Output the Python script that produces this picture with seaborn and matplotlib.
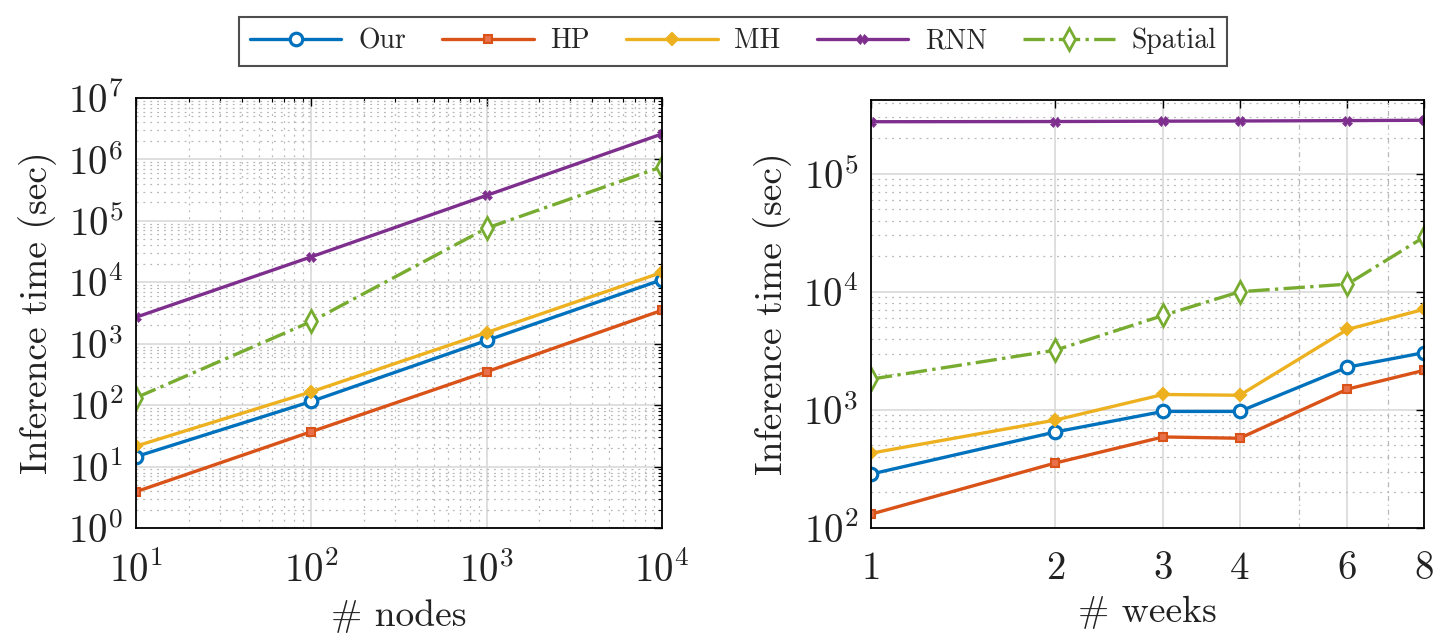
import numpy as np
import pandas as pd
import matplotlib
matplotlib.use("Agg")
import matplotlib.pyplot as plt
import matplotlib.ticker as mticker
import seaborn as sns

# left panel: inference time vs number of nodes
nodes = [10, 100, 1000, 10000]
our_nodes = [14.5, 115, 1130, 11000]
hp_nodes = [3.9, 37, 350, 3500]
mh_nodes = [21.5, 165, 1520, 14500]
rnn_nodes = [2700, 26000, 260000, 2.6e6]
spatial_nodes = [132, 2300, 76000, 7.6e5]

# right panel: inference time vs number of weeks
weeks = [1, 2, 3, 4, 6, 8]
our_weeks = [286, 650, 970, 970, 2300, 3050]
hp_weeks = [131, 355, 590, 575, 1500, 2160]
mh_weeks = [430, 820, 1350, 1330, 4800, 7100]
rnn_weeks = [2.75e5, 2.76e5, 2.78e5, 2.79e5, 2.81e5, 2.83e5]
spatial_weeks = [1820, 3200, 6300, 10000, 11600, 29000]

methods = ["Our", "HP", "MH", "RNN", "Spatial"]
colors = ["#0072BD", "#D95319", "#EDB120", "#7E2F8E", "#77AC30"]
styles = {
    "Our": dict(marker="o", mfc="white", ms=9, mew=2.3, ls="-"),
    "HP": dict(marker="s", mfc="#E8704A", ms=6, mew=1.5, ls="-"),
    "MH": dict(marker="D", ms=6.5, mew=1.5, ls="-"),
    "RNN": dict(marker="X", ms=7, mew=0.5, ls="-"),
    "Spatial": dict(marker="d", mfc="white", ms=11, mew=2, ls="-."),
}

sns.set_style("white")
plt.rcParams["font.family"] = ["cmr10", "DejaVu Serif"]
plt.rcParams["mathtext.fontset"] = "cm"
plt.rcParams["axes.formatter.use_mathtext"] = True

fig = plt.figure(figsize=(14.44, 6.43), dpi=100)
ax1 = fig.add_axes([136 / 1444, 1 - 528 / 643, 526 / 1444, 430 / 643])
ax2 = fig.add_axes([871 / 1444, 1 - 528 / 643, 553 / 1444, 428 / 643])

left = {"Our": our_nodes, "HP": hp_nodes, "MH": mh_nodes,
        "RNN": rnn_nodes, "Spatial": spatial_nodes}
right = {"Our": our_weeks, "HP": hp_weeks, "MH": mh_weeks,
         "RNN": rnn_weeks, "Spatial": spatial_weeks}

for m, c in zip(methods, colors):
    sns.lineplot(x=nodes, y=left[m], ax=ax1, color=c, lw=2.4, label=m,
                 mec=c, **styles[m])
    sns.lineplot(x=weeks, y=right[m], ax=ax2, color=c, lw=2.4, legend=False,
                 mec=c, **styles[m])

for ax in (ax1, ax2):
    ax.set_xscale("log")
    ax.set_yscale("log")
    ax.grid(True, which="major", color="#d9d9d9", lw=1.2, ls="-")
    ax.grid(True, which="minor", color="#b8b8b8", lw=0.9, ls=(0, (1.5, 4)))
    ax.set_axisbelow(True)
    ax.tick_params(which="both", direction="in", top=True, right=True,
                   labelsize=28, color="black", labelcolor="#222222")
    ax.tick_params(which="major", length=6, width=1, pad=9)
    ax.tick_params(axis="x", which="major", pad=17)
    ax.tick_params(which="minor", length=3, width=0.8)
    for s in ax.spines.values():
        s.set_color("black")
        s.set_linewidth(1.3)
    ax.set_ylabel("Inference time (sec)", fontsize=27, labelpad=8, color="#222222")

ax1.set_xlim(10, 10000)
ax1.set_ylim(1, 1e7)
ax1.yaxis.set_major_locator(mticker.LogLocator(base=10, numticks=20))
ax1.yaxis.set_minor_locator(mticker.LogLocator(base=10, subs=np.arange(2, 10), numticks=20))
ax1.set_xlabel("# nodes", fontsize=27, labelpad=6, color="#222222")
ax1.get_legend().remove()

ax2.set_xlim(1, 8)
ax2.set_ylim(100, 4.2e5)
ax2.set_xticks(weeks)
ax2.xaxis.set_major_formatter(mticker.FixedFormatter([str(w) for w in weeks]))
ax2.xaxis.set_minor_locator(mticker.FixedLocator([5, 7]))
ax2.xaxis.set_minor_formatter(mticker.NullFormatter())
ax2.grid(True, which="minor", axis="x", color="#b8b8b8", lw=0.9, ls=(0, (4, 3, 1, 3)))
ax2.set_xlabel("# weeks", fontsize=27, labelpad=6, color="#222222")

handles, labels = ax1.get_legend_handles_labels()
leg = fig.legend(handles, labels, loc="upper center", ncol=5,
                 bbox_to_anchor=(733 / 1444, 1 - 3 / 643), fontsize=20,
                 frameon=True, fancybox=False, edgecolor="#222222",
                 handlelength=3.3, handletextpad=0.6, columnspacing=1.3,
                 borderpad=0.4)
leg.get_frame().set_linewidth(1.5)

fig.savefig("out.png", dpi=100)
